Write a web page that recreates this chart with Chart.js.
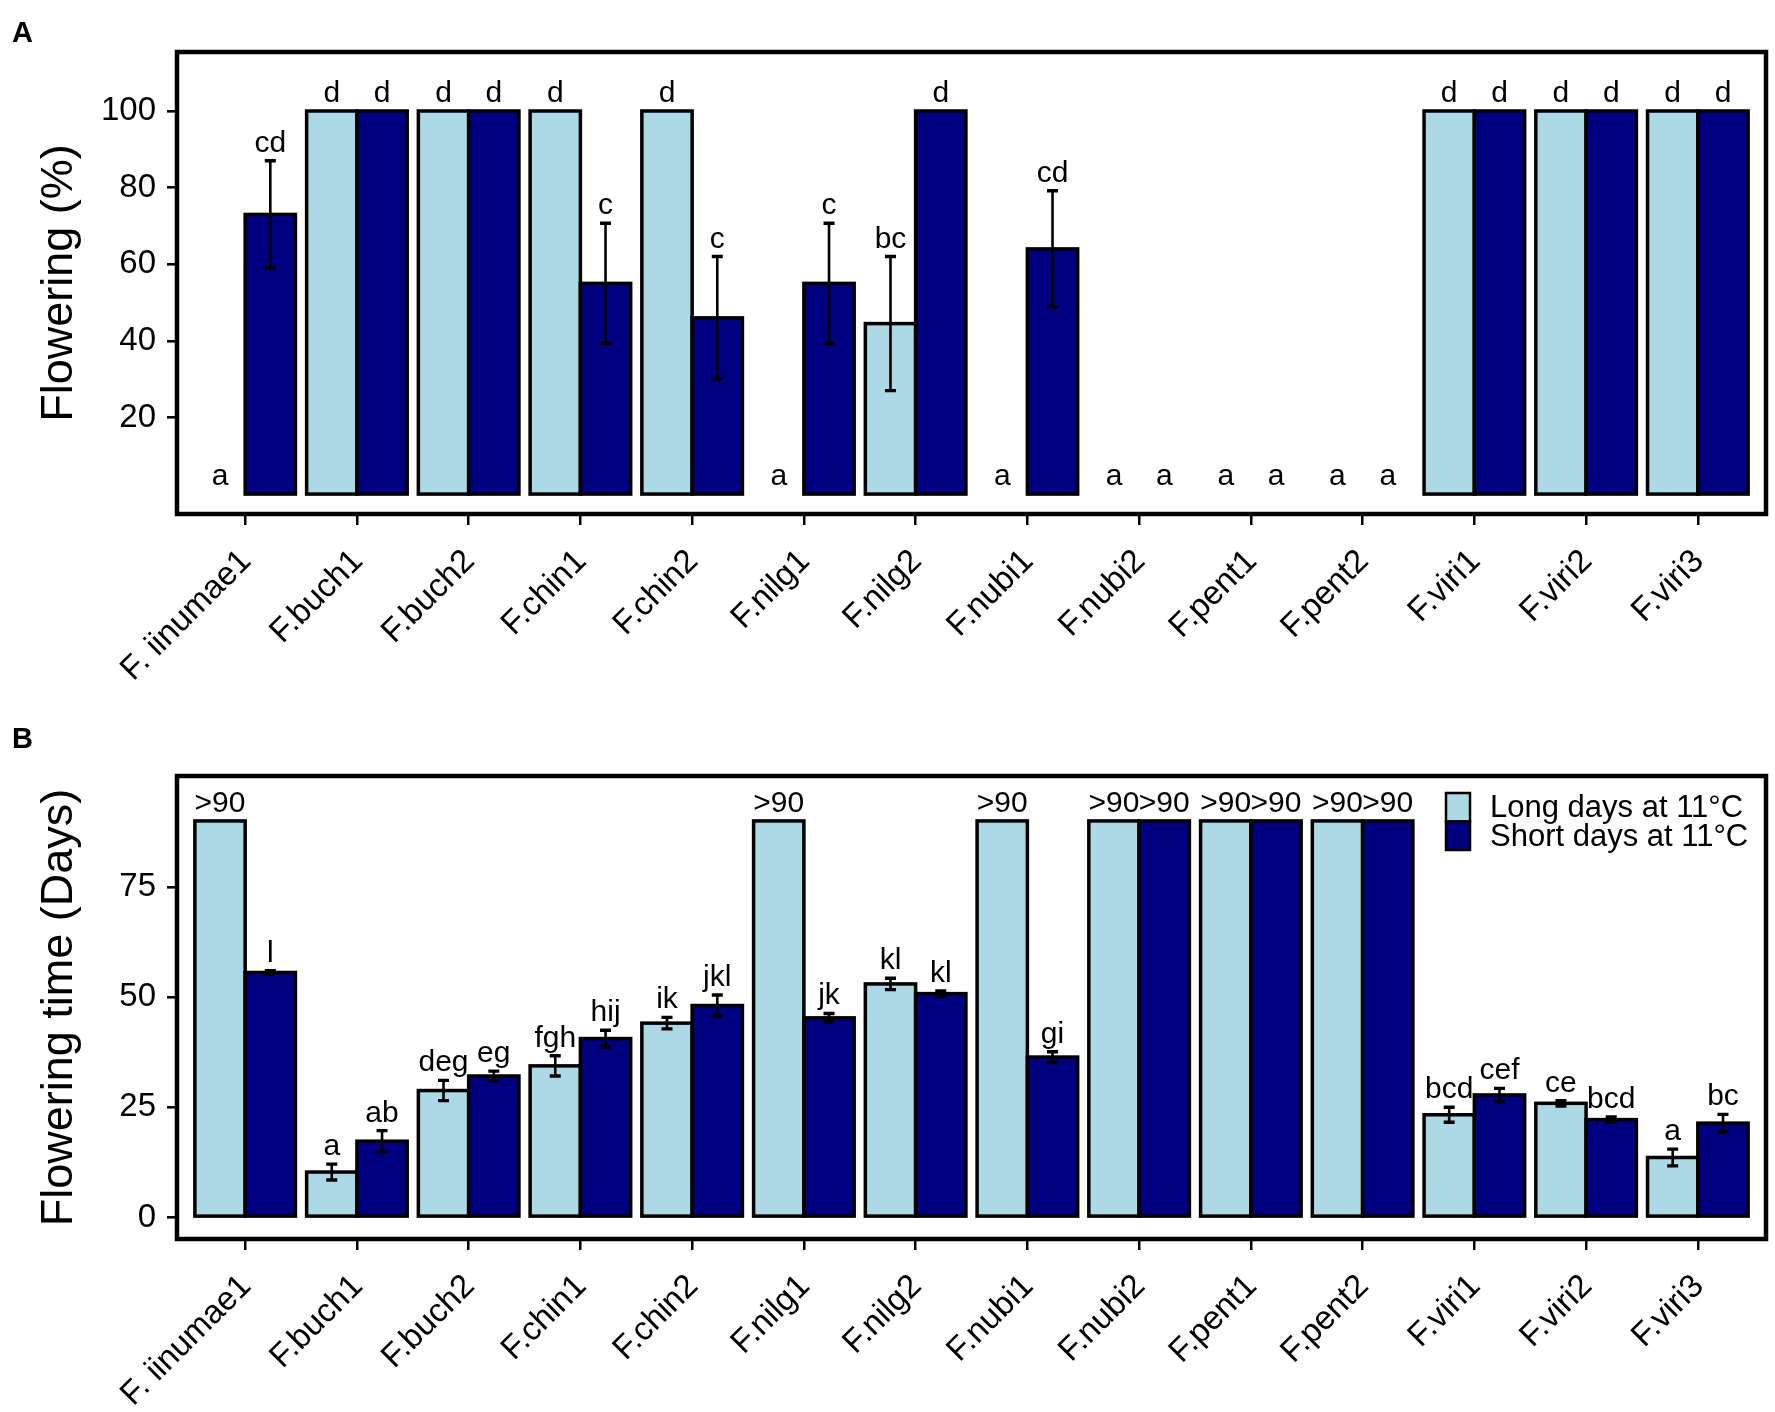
<!DOCTYPE html>
<html>
<head>
<meta charset="utf-8">
<script src="https://cdn.jsdelivr.net/npm/chart.js@4.4.0/dist/chart.umd.min.js"></script>
<style>
  body { margin: 0; background: #fff; width: 1775px; height: 1412px; position: relative; overflow: hidden; font-family: "Liberation Sans", Arial, sans-serif; }
  canvas { position: absolute; left: 0; }
  #chartA { top: 0; }
  #chartB { top: 706px; }
  .panel { position: absolute; left: 12px; font-weight: bold; font-size: 29px; line-height: 29px; }
</style>
</head>
<body>
<canvas id="chartA" width="1775" height="706"></canvas>
<canvas id="chartB" width="1775" height="706"></canvas>
<div class="panel" style="top:18px">A</div>
<div class="panel" style="top:724px">B</div>
<script>
const categories = ['F. iinumae1', 'F.buch1', 'F.buch2', 'F.chin1', 'F.chin2', 'F.nilg1', 'F.nilg2',
  'F.nubi1', 'F.nubi2', 'F.pent1', 'F.pent2', 'F.viri1', 'F.viri2', 'F.viri3'];
const seriesNames = ['Long days at 11°C', 'Short days at 11°C'];

// A: flowering (%)
const pctLong = [0, 100, 100, 100, 100, 0, 44.5, 0, 0, 0, 0, 100, 100, 100];
const pctLongErr = [0, 0, 0, 0, 0, 0, 17.5, 0, 0, 0, 0, 0, 0, 0];
const pctShort = [73, 100, 100, 55, 46, 55, 100, 64, 0, 0, 0, 100, 100, 100];
const pctShortErr = [14, 0, 0, 15.7, 16, 15.7, 0, 15.2, 0, 0, 0, 0, 0, 0];
const pctLongLetters = ['a', 'd', 'd', 'd', 'd', 'a', 'bc', 'a', 'a', 'a', 'a', 'd', 'd', 'd'];
const pctShortLetters = ['cd', 'd', 'd', 'c', 'c', 'c', 'd', 'cd', 'a', 'a', 'a', 'd', 'd', 'd'];
const pctTicks = [20, 40, 60, 80, 100];

// B: flowering time (days), 90 = did not flower (>90)
const daysLong = [90, 10.3, 28.8, 34.4, 44.1, 90, 53.0, 90, 90, 90, 90, 23.3, 25.9, 13.6];
const daysLongErr = [0, 1.8, 2.3, 2.3, 1.3, 0, 1.3, 0, 0, 0, 0, 1.7, 0.6, 1.9];
const daysShort = [55.6, 17.3, 32.1, 40.6, 48.1, 45.3, 50.8, 36.4, 90, 90, 90, 27.8, 22.2, 21.4];
const daysShortErr = [0.4, 2.4, 1.1, 1.9, 2.4, 1.0, 0.6, 1.2, 0, 0, 0, 1.5, 0.6, 2.0];
const daysLongLetters = ['>90', 'a', 'deg', 'fgh', 'ik', '>90', 'kl', '>90', '>90', '>90', '>90', 'bcd', 'ce', 'a'];
const daysShortLetters = ['l', 'ab', 'eg', 'hij', 'jkl', 'jk', 'kl', 'gi', '>90', '>90', '>90', 'cef', 'bcd', 'bc'];
const daysTicks = [0, 25, 50, 75];

const colLight = '#ADD8E6';
const colDark = '#000080';
const FONT = '"Liberation Sans", Arial, sans-serif';

Chart.defaults.font.family = FONT;
Chart.defaults.color = '#000';

// bar outlines (centred strokes, like R), error bars, letters, box and legend
const annotate = {
  id: 'annotate',
  afterDraw(chart, args, opts) {
    const ctx = chart.ctx, a = chart.chartArea;
    const ys = chart.scales.y;
    ctx.save();
    ctx.strokeStyle = '#000';
    chart.data.datasets.forEach((ds, di) => {
      const meta = chart.getDatasetMeta(di);
      ds.values.forEach((v, i) => {
        if (v === 0) return;
        const b = meta.data[i].getProps(['x', 'y', 'base', 'width'], true);
        ctx.lineWidth = 3.5;
        ctx.strokeRect(b.x - b.width / 2, b.y, b.width, b.base - b.y);
      });
    });
    chart.data.datasets.forEach((ds, di) => {
      const meta = chart.getDatasetMeta(di);
      ds.values.forEach((v, i) => {
        const cx = meta.data[i].getProps(['x'], true).x;
        const e = ds.err[i];
        if (e > 0) {
          const yt = ys.getPixelForValue(v + e), yb = ys.getPixelForValue(v - e);
          ctx.lineWidth = 2.6;
          ctx.beginPath(); ctx.moveTo(cx, yt); ctx.lineTo(cx, yb); ctx.stroke();
          ctx.lineWidth = 3.4;
          ctx.beginPath();
          ctx.moveTo(cx - 5.5, yt); ctx.lineTo(cx + 5.5, yt);
          ctx.moveTo(cx - 5.5, yb); ctx.lineTo(cx + 5.5, yb);
          ctx.stroke();
        }
        ctx.fillStyle = '#000';
        ctx.font = '30px ' + FONT;
        ctx.textAlign = 'center';
        ctx.textBaseline = 'alphabetic';
        ctx.fillText(ds.letters[i], cx, ys.getPixelForValue(v + e) - 9);
      });
    });
    ctx.lineWidth = 4.5;
    ctx.strokeRect(a.left, a.top, a.right - a.left, a.bottom - a.top);

    if (opts.legend) {
      const lx = a.right - 320, ly = a.top + 17;
      chart.data.datasets.forEach((ds, di) => {
        ctx.fillStyle = ds.backgroundColor;
        ctx.fillRect(lx, ly + di * 28.5, 24, 28.5);
        ctx.lineWidth = 2.5;
        ctx.strokeRect(lx, ly + di * 28.5, 24, 28.5);
        ctx.fillStyle = '#000';
        ctx.font = '31px ' + FONT;
        ctx.textAlign = 'left';
        ctx.fillText(ds.label, lx + 44, ly + 24 + di * 29);
      });
    }
    ctx.restore();
  }
};

function makeChart(id, longVals, longErr, shortVals, shortErr, longLet, shortLet,
                   yMin, yMax, yTicks, yTitle, topPad, axisH, legend) {
  const toPoints = vals => vals.map((v, i) => ({ x: i, y: v === 0 ? null : v }));
  return new Chart(document.getElementById(id), {
    type: 'bar',
    data: {
      datasets: [{
        label: seriesNames[0],
        data: toPoints(longVals),
        values: longVals, err: longErr, letters: longLet,
        backgroundColor: colLight,
        borderWidth: 0
      }, {
        label: seriesNames[1],
        data: toPoints(shortVals),
        values: shortVals, err: shortErr, letters: shortLet,
        backgroundColor: colDark,
        borderWidth: 0
      }]
    },
    options: {
      responsive: false,
      devicePixelRatio: 1,
      animation: false,
      events: [],
      categoryPercentage: 0.9,
      barPercentage: 1.0,
      layout: { padding: { top: topPad, right: 9, left: 0, bottom: 0 } },
      plugins: {
        legend: { display: false },
        tooltip: { enabled: false },
        annotate: { legend: legend }
      },
      scales: {
        x: {
          type: 'linear',
          min: -0.61,
          max: 13.61,
          offset: false,
          afterBuildTicks: s => { s.ticks = categories.map((c, i) => ({ value: i })); },
          afterFit: s => { s.height = axisH; },
          grid: { offset: false, drawOnChartArea: false, drawTicks: true, tickLength: 11, lineWidth: 2.5, color: '#000' },
          border: { display: false },
          ticks: {
            autoSkip: false, minRotation: 45, maxRotation: 45,
            font: { size: 33 }, padding: 17, labelOffset: 1, color: '#000',
            callback: v => categories[v]
          }
        },
        y: {
          min: yMin,
          max: yMax,
          afterBuildTicks: s => { s.ticks = yTicks.map(v => ({ value: v })); },
          afterFit: s => { s.width = 177; },
          grid: { drawOnChartArea: false, drawTicks: true, tickLength: 10, lineWidth: 2.6, color: '#000' },
          border: { display: false },
          ticks: { font: { size: 33 }, padding: 11, color: '#000' },
          title: {
            display: true, text: yTitle, color: '#000',
            font: { size: 45, lineHeight: 1 },
            padding: { top: 37, bottom: 0 }
          }
        }
      }
    },
    plugins: [annotate]
  });
}

makeChart('chartA', pctLong, pctLongErr, pctShort, pctShortErr, pctLongLetters, pctShortLetters,
  -5.2, 115.4, pctTicks, 'Flowering (%)', 52, 192, false);
makeChart('chartB', daysLong, daysLongErr, daysShort, daysShortErr, daysLongLetters, daysShortLetters,
  -4.9, 100.2, daysTicks, 'Flowering time (Days)', 70, 173, true);
</script>
</body>
</html>
